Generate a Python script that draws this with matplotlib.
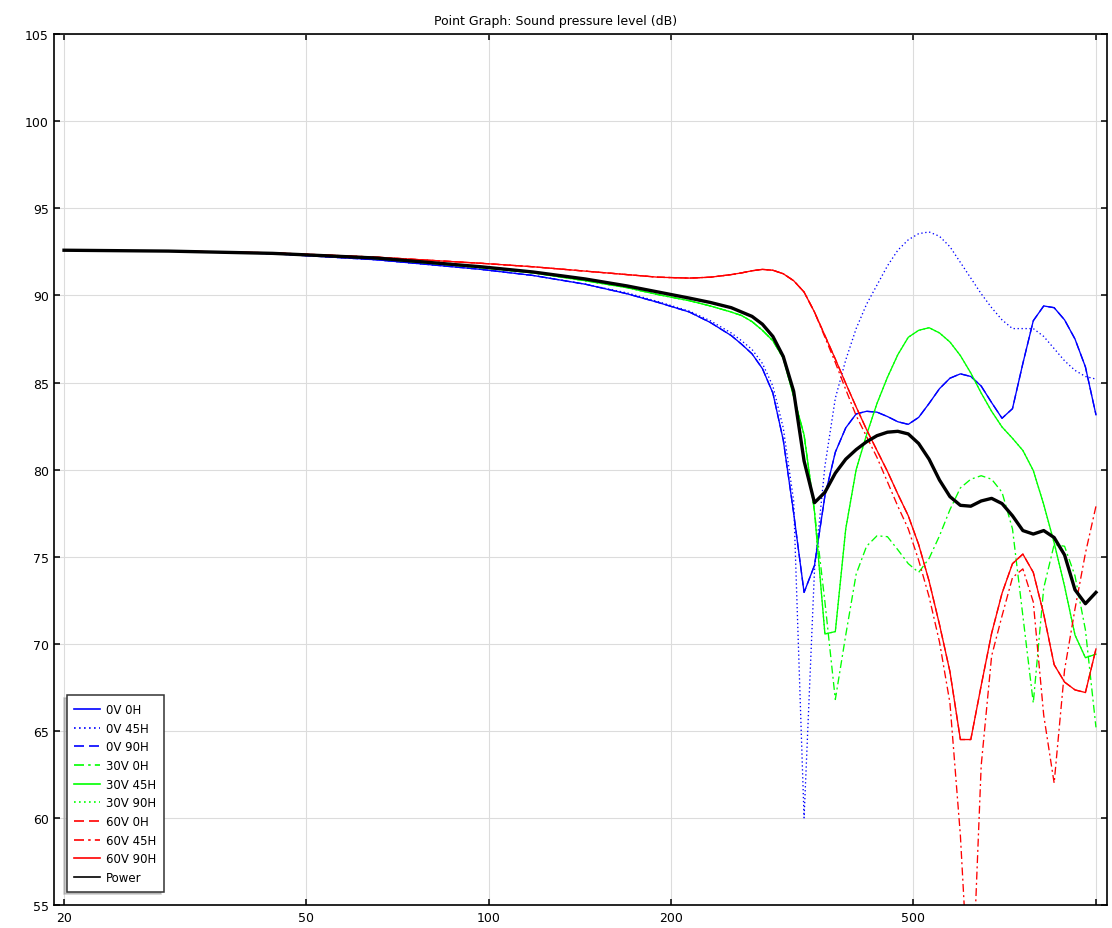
import matplotlib
matplotlib.use("Agg")
import matplotlib.pyplot as plt
from matplotlib.ticker import FixedLocator, FixedFormatter, NullLocator

# Frequency points (Hz)
freq = [20.0, 29.70, 44.09, 65.45, 97.16, 118.4, 144.2, 169.0, 190.2, 214.1,
        231.8, 250.9, 261.0, 271.5, 282.4, 293.8, 305.6, 317.9, 330.7, 344.0,
        357.9, 372.3, 387.3, 402.9, 419.1, 436.0, 453.6, 471.8, 490.9, 510.6,
        531.2, 552.6, 574.9, 598.1, 622.2, 647.2, 673.3, 700.4, 728.7, 758.0,
        788.5, 820.3, 853.4, 887.8, 923.6, 960.8, 1000.0]

spl_0v_0h = [92.6, 92.55, 92.4, 92.05, 91.5, 91.15, 90.65, 90.1, 89.6, 89.05,
             88.45, 87.7, 87.2, 86.65, 85.8, 84.4, 81.7, 77.5, 72.95, 74.5,
             78.5, 81.0, 82.4, 83.2, 83.35, 83.3, 83.05, 82.75, 82.6, 83.0,
             83.8, 84.65, 85.25, 85.5, 85.35, 84.8, 83.85, 82.95, 83.5, 86.1,
             88.55, 89.4, 89.3, 88.6, 87.5, 85.9, 83.15]

spl_0v_45h = [92.6, 92.55, 92.4, 92.05, 91.5, 91.15, 90.65, 90.15, 89.65, 89.1,
              88.55, 87.85, 87.4, 86.9, 86.1, 84.8, 82.4, 78.2, 60.0, 74.2,
              80.2, 84.1, 86.3, 88.1, 89.5, 90.6, 91.7, 92.6, 93.2, 93.55,
              93.65, 93.4, 92.8, 91.9, 91.0, 90.1, 89.3, 88.6, 88.1, 88.1,
              88.1, 87.65, 86.95, 86.25, 85.7, 85.35, 85.2]

spl_0v_90h = spl_0v_0h

spl_30v_0h = [92.6, 92.55, 92.42, 92.12, 91.6, 91.3, 90.85, 90.45, 90.05, 89.7,
              89.4, 89.05, 88.85, 88.5, 88.0, 87.4, 86.4, 84.2, 82.0, 77.6,
              72.4, 66.8, 70.5, 74.0, 75.6, 76.2, 76.15, 75.4, 74.6, 74.1,
              74.9, 76.2, 77.7, 78.95, 79.45, 79.65, 79.45, 78.7, 76.6, 71.6,
              66.6, 73.2, 75.7, 75.6, 73.9, 70.8, 65.2]

spl_30v_45h = [92.6, 92.55, 92.42, 92.12, 91.6, 91.3, 90.85, 90.45, 90.05, 89.7,
               89.4, 89.05, 88.85, 88.5, 88.0, 87.4, 86.4, 84.2, 82.0, 77.6,
               70.56, 70.7, 76.6, 80.0, 82.0, 83.8, 85.3, 86.6, 87.6, 88.0,
               88.15, 87.85, 87.33, 86.55, 85.55, 84.4, 83.35, 82.45, 81.8, 81.1,
               79.95, 78.0, 75.8, 73.3, 70.5, 69.2, 69.4]

spl_30v_90h = spl_30v_45h

spl_60v_45h = [92.6, 92.56, 92.45, 92.2, 91.85, 91.65, 91.4, 91.2, 91.05, 91.0,
               91.05, 91.2, 91.3, 91.42, 91.5, 91.45, 91.25, 90.85, 90.2, 89.05,
               87.6, 86.15, 84.6, 83.1, 81.9, 80.7, 79.3, 77.9, 76.6, 74.8,
               72.7, 70.1, 66.6, 59.0, 48.0, 63.0, 69.3, 71.6, 73.8, 74.3,
               72.4, 65.9, 62.0, 68.5, 72.0, 75.2, 77.9]

spl_60v_90h = [92.6, 92.56, 92.45, 92.2, 91.85, 91.65, 91.4, 91.2, 91.05, 91.0,
               91.05, 91.2, 91.3, 91.42, 91.5, 91.45, 91.25, 90.85, 90.2, 89.05,
               87.7, 86.35, 84.95, 83.6, 82.3, 81.1, 79.9, 78.6, 77.35, 75.7,
               73.6, 71.1, 68.4, 64.5, 64.5, 67.6, 70.6, 72.9, 74.6, 75.15,
               74.1, 71.7, 68.8, 67.8, 67.35, 67.2, 69.7]

spl_60v_0h = spl_60v_90h

spl_power = [92.6, 92.55, 92.42, 92.15, 91.65, 91.35, 90.95, 90.55, 90.2, 89.85,
             89.6, 89.3, 89.05, 88.8, 88.35, 87.65, 86.5, 84.5, 80.5, 78.1,
             78.7, 79.8, 80.6, 81.15, 81.6, 81.95, 82.15, 82.2, 82.05, 81.5,
             80.6, 79.4, 78.45, 77.95, 77.9, 78.2, 78.35, 78.05, 77.35, 76.5,
             76.3, 76.5, 76.1, 75.1, 73.1, 72.3, 72.95]

labels = ["0V 0H", "0V 45H", "0V 90H", "30V 0H", "30V 45H", "30V 90H",
          "60V 0H", "60V 45H", "60V 90H", "Power"]
series = [spl_0v_0h, spl_0v_45h, spl_0v_90h, spl_30v_0h, spl_30v_45h,
          spl_30v_90h, spl_60v_0h, spl_60v_45h, spl_60v_90h, spl_power]

x_ticks = [20, 50, 100, 200, 500, 1000]
x_tick_labels = ["20", "50", "100", "200", "500", ""]
y_ticks = [55, 60, 65, 70, 75, 80, 85, 90, 95, 100, 105]

colors = ["#0000ff", "#0000ff", "#0000ff", "#00ff00", "#00ff00", "#00ff00",
          "#ff0000", "#ff0000", "#ff0000", "#000000"]
dashdot = (0, (6, 2.5, 1.5, 2.5))
styles = ["-", (0, (1, 2)), (0, (6, 3)), dashdot, "-", (0, (1, 2)),
          (0, (6, 3)), dashdot, "-", "-"]
widths = [0.95] * 9 + [2.4]

fig = plt.figure(figsize=(11.12, 9.29), dpi=100)
ax = fig.add_axes([0.049, 0.0248, 0.9462, 0.9372])

for s, lab, c, ls, lw in zip(series, labels, colors, styles, widths):
    ax.plot(freq, s, color=c, linestyle=ls, linewidth=lw, label=lab)

ax.set_xscale("log")
ax.set_xlim(19.29, 1041.4)
ax.set_ylim(55, 105)
ax.xaxis.set_major_locator(FixedLocator(x_ticks))
ax.xaxis.set_major_formatter(FixedFormatter(x_tick_labels))
ax.xaxis.set_minor_locator(NullLocator())
ax.set_yticks(y_ticks)
ax.set_yticklabels([str(v) for v in y_ticks])
ax.grid(True, color="#dcdcdc", linewidth=0.8)
ax.set_axisbelow(True)
ax.tick_params(direction="in", length=4.5, width=1.1, top=True, right=True,
               labelsize=9, pad=4)
for sp in ax.spines.values():
    sp.set_linewidth(1.2)

leg = ax.legend(loc="lower left", bbox_to_anchor=(0.0116, 0.0153),
                borderaxespad=0, fontsize=8.5, fancybox=False, framealpha=1,
                edgecolor="#333333", labelspacing=0.48, handlelength=2.2,
                handletextpad=0.45, borderpad=0.65,
                shadow={"ox": -2, "oy": -2, "color": "0.6"})
leg.get_frame().set_linewidth(1.1)
for hl in leg.get_lines():
    hl.set_linewidth(1.2)

fig.text(0.5, 0.977, "Point Graph: Sound pressure level (dB)", ha="center",
         va="center", fontsize=9)

fig.savefig("out.png", dpi=100)
